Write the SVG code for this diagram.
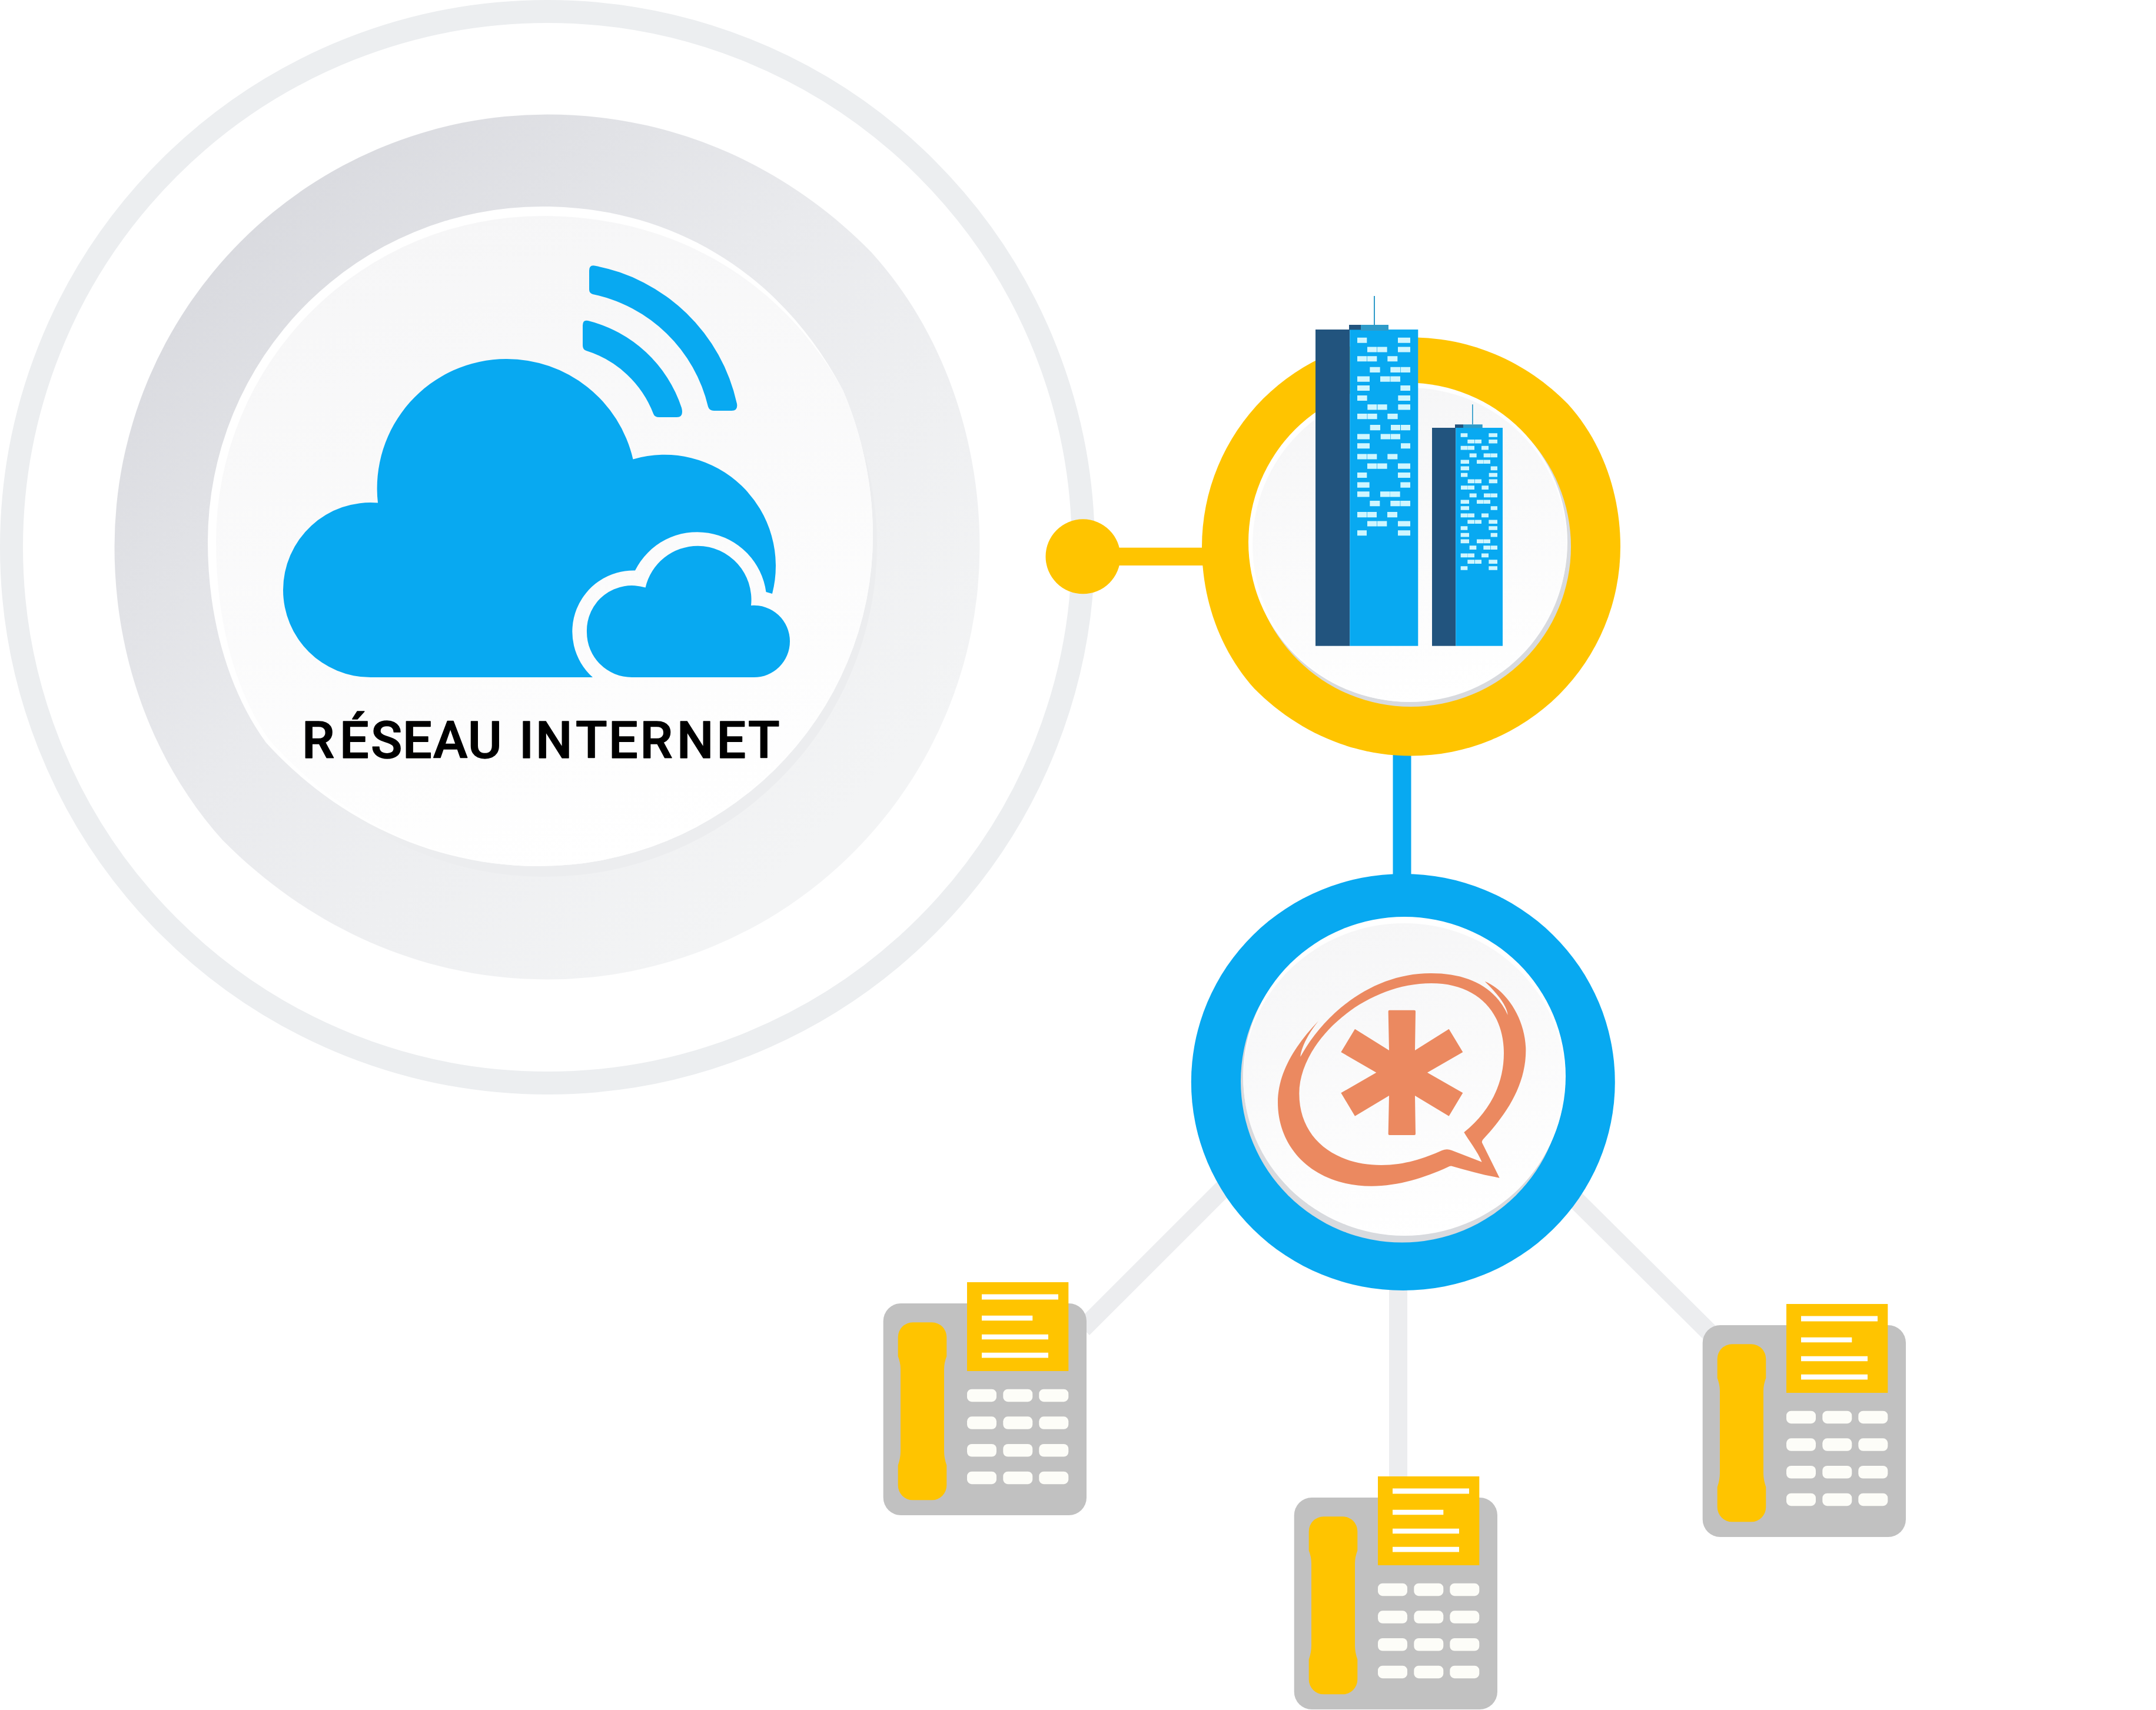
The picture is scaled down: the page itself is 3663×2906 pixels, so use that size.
<svg xmlns="http://www.w3.org/2000/svg" xmlns:xlink="http://www.w3.org/1999/xlink" width="3663" height="2906" viewBox="0 0 3663 2906">
<style>
.blue{fill:#08A9F1}
.yellow{fill:#FFC400}
.dark{fill:#22547E}
.cap{fill:#2E9BC9}
.win{fill:#CFF6FF}
.body{fill:#C1C1C1}
.btn{fill:#FDFDF8}
.orange{fill:#EB8960}
.grey-line{stroke:#ECEDEF;stroke-width:31;fill:none}
.label{font-family:"Roboto","Liberation Sans",sans-serif;font-size:88px;font-weight:500;fill:#000;stroke:#000;stroke-width:1.5;stroke-linejoin:round}
</style>
<defs>
<linearGradient id="midGrad" x1="0.12" y1="0.15" x2="0.8" y2="0.85"><stop offset="0" stop-color="#D9DADF"/><stop offset="0.45" stop-color="#E9EAED"/><stop offset="0.7" stop-color="#EEEFF1"/><stop offset="1" stop-color="#F3F4F5"/></linearGradient>
<linearGradient id="faceGrad" x1="0.35" y1="0" x2="0.6" y2="1"><stop offset="0" stop-color="#F6F6F7"/><stop offset="1" stop-color="#FFFFFF"/></linearGradient>
<path id="blob" d="M0 -1C.3 -1 .56 -.875 .749 -.682C.91 -.505 1 -.258 1 0A1 1 0 0 1 0 1C-.3 1 -.56 .87 -.75 .678C-.91 .5 -1 .258 -1 0A1 1 0 0 1 0 -1Z"/>
<g id="phone">
<rect class="body" x="1500.7" y="2215" width="345.3" height="360" rx="30"/>
<path class="yellow" d="M1550.7 2247.3H1583.3A25 25 0 0 1 1608.3 2272.3V2305Q1604 2316 1604 2326.7V2466.7Q1604 2478 1608.3 2490V2524.3A25 25 0 0 1 1583.3 2549.3H1550.7A25 25 0 0 1 1525.7 2524.3V2490Q1530 2478 1530 2466.7V2326.7Q1530 2316 1525.7 2305V2272.3A25 25 0 0 1 1550.7 2247.3Z"/>
<rect class="yellow" x="1643" y="2179" width="172.3" height="151"/>
<path fill="#fff" d="M1668 2199.5h130v9h-130zM1668 2235.7h86.3v8.6h-86.3zM1668 2267.7h113v8.6h-113zM1668 2298.7h113v8.8h-113z"/>
<g class="btn">
<rect x="1643" y="2360.7" width="50" height="21.5" rx="8"/><rect x="1704.3" y="2360.7" width="50" height="21.5" rx="8"/><rect x="1765.3" y="2360.7" width="50" height="21.5" rx="8"/>
<rect x="1643" y="2407.3" width="50" height="21.5" rx="8"/><rect x="1704.3" y="2407.3" width="50" height="21.5" rx="8"/><rect x="1765.3" y="2407.3" width="50" height="21.5" rx="8"/>
<rect x="1643" y="2454" width="50" height="21.5" rx="8"/><rect x="1704.3" y="2454" width="50" height="21.5" rx="8"/><rect x="1765.3" y="2454" width="50" height="21.5" rx="8"/>
<rect x="1643" y="2500.7" width="50" height="21.5" rx="8"/><rect x="1704.3" y="2500.7" width="50" height="21.5" rx="8"/><rect x="1765.3" y="2500.7" width="50" height="21.5" rx="8"/>
</g>
</g>
</defs>
<rect width="3663" height="2906" fill="#fff"/>
<g id="node-internet">
<circle cx="930" cy="930" r="910.5" fill="none" stroke="#ECEEF0" stroke-width="39"/>
<use xlink:href="#blob" href="#blob" transform="translate(929.5 929.5) scale(735)" fill="url(#midGrad)"/>
<circle cx="925" cy="925" r="565" fill="#ECEDEF"/>
<path fill="#fff" d="M921 351C1150 351 1332 472 1432 663C1465 740 1483 825 1483 910A568 562 0 0 1 915 1472C735 1472 570 1392 452 1262C385 1170 353 1045 353 921A568 570 0 0 1 921 351Z"/>
<path fill="url(#faceGrad)" d="M921 367C1150 367 1330 480 1432 663C1465 740 1483 825 1483 910A568 562 0 0 1 915 1472C740 1472 575 1390 458 1258C395 1170 367 1045 367 920A554 553 0 0 1 921 367Z"/>
<path class="blue" d="M629.5 1151A148.5 148.5 0 0 1 481 1003A148.5 148.5 0 0 1 642 854.6A220 220 0 0 1 860 610A220 220 0 0 1 1075.5 780.5A189 189 0 0 1 1312 1009L1301.5 1006A118 118 0 0 0 1079 969.5A104 104 0 0 0 1007 1151Z"/>
<path class="blue" d="M1073.5 1151A76.5 76.5 0 0 1 997 1074.5A76.5 76.5 0 0 1 1096.6 998.6A91.5 91.5 0 0 1 1185.7 927.7A91.5 91.5 0 0 1 1276 1029A61 61 0 0 1 1342 1090A61 61 0 0 1 1280 1151Z"/>
<path class="blue" d="M1010 451.5A305 305 0 0 1 1252 686Q1254 698 1243 698L1213 698Q1205 698 1203 691A255 255 0 0 0 1007 500Q1001 498 1001 492L1001 460Q1001 450 1010 451.5Z"/>
<path class="blue" d="M999 545A225 225 0 0 1 1158 693Q1162 709 1150 709L1120 709Q1112 709 1110 703A180 180 0 0 0 996 596Q990 594 990 587L990 553Q990 543 999 545Z"/>
<text class="label" x="513 577 630 684 736 795 850 882 910 978 1034 1087.5 1150 1217.6 1271" y="1288">RÉSEAU INTERNET</text>
</g>
<g id="connectors">
<rect class="yellow" x="1840" y="930.7" width="220" height="30.3"/>
<rect class="blue" x="2366.5" y="1270" width="31" height="230"/>
<line class="grey-line" x1="2375.5" y1="2180" x2="2375.5" y2="2520"/>
<line class="grey-line" x1="1840" y1="2258" x2="2130" y2="1968"/>
<line class="grey-line" x1="2640" y1="2002" x2="2920" y2="2280"/>
<circle class="yellow" cx="1840" cy="945.8" r="63.5"/>
</g>
<g id="node-company">
<use xlink:href="#blob" href="#blob" transform="translate(2397.5 929) scale(355.5)" class="yellow"/>
<circle cx="2397" cy="929" r="272" fill="#D8DADE"/>
<circle cx="2392" cy="921.5" r="271" fill="#fff"/>
<circle cx="2395" cy="926" r="267" fill="url(#faceGrad)"/>
<rect class="dark" x="2235" y="560" width="58.3" height="537.7"/>
<rect class="blue" x="2293.3" y="560" width="116" height="537.7"/>
<rect class="dark" x="2292" y="552" width="20" height="8.4"/>
<rect class="cap" x="2312" y="552" width="47" height="10"/>
<rect class="cap" x="2334" y="503" width="2" height="49"/>
<rect class="dark" x="2433" y="727" width="40.3" height="370.7"/>
<rect class="blue" x="2473.3" y="727" width="79.7" height="370.7"/>
<rect class="dark" x="2472" y="721.3" width="14" height="5.7"/>
<rect class="cap" x="2486" y="721.3" width="32.7" height="6"/>
<rect class="cap" x="2501" y="687.3" width="1.7" height="34"/>
<g transform="translate(2180 480) scale(.33333 .41457)">
<path class="win" d="M378 226H427V248H378ZM585 226H648V248H585ZM429 264H478V286H429ZM480 264H530V286H480ZM585 264H648V286H585ZM378 302H427V324H378ZM429 302H478V324H429ZM532 302H583V324H532ZM442 347H494V369H442ZM547 347H597V369H547ZM599 347H648V369H599ZM378 385H441V407H378ZM495 385H545V407H495ZM547 385H597V407H547ZM378 422H441V444H378ZM598 422H648V444H598ZM378 463H428V485H378ZM586 463H648V485H586ZM430 500H478V522H430ZM481 500H530V522H481ZM586 500H648V522H586ZM378 538H428V560H378ZM430 538H479V560H430ZM532 538H584V560H532ZM443 584H495V606H443ZM549 584H597V606H549ZM600 584H648V606H600ZM378 621H441V643H378ZM497 621H546V643H497ZM548 621H597V643H548ZM378 659H441V681H378ZM600 659H648V681H600ZM378 703H427V725H378ZM429 703H478V725H429ZM532 703H583V725H532ZM429 742H478V764H429ZM480 742H530V764H480ZM585 742H648V764H585ZM378 779H427V801H378ZM585 779H648V801H585ZM378 819H440V841H378ZM598 819H648V841H598ZM378 857H440V879H378ZM495 857H545V879H495ZM546 857H596V879H546ZM442 895H493V917H442ZM547 895H596V917H547ZM598 895H648V917H598ZM378 941H427V963H378ZM429 941H477V963H429ZM531 941H582V963H531ZM429 978H478V1000H429ZM480 978H529V1000H480ZM585 978H648V1000H585ZM378 1016H426V1038H378ZM585 1016H648V1038H585Z"/>
<path class="win" d="M905 618H940V634H905ZM1048 618H1092V634H1048ZM940 644H975V660H940ZM977 644H1011V660H977ZM1048 644H1092V660H1048ZM905 670H940V686H905ZM941 670H975V686H941ZM1011 670H1047V686H1011ZM950 701H986V717H950ZM1022 701H1057V717H1022ZM1058 701H1092V717H1058ZM905 727H948V743H905ZM987 727H1021V743H987ZM1022 727H1056V743H1022ZM905 754H948V770H905ZM1058 754H1092V770H1058ZM906 781H940V797H906ZM1049 781H1092V797H1049ZM941 807H975V823H941ZM977 807H1011V823H977ZM1049 807H1092V823H1049ZM906 833H940V849H906ZM941 833H975V849H941ZM1012 833H1047V849H1012ZM950 865H986V881H950ZM1023 865H1057V881H1023ZM1058 865H1092V881H1058ZM905 891H948V907H905ZM987 891H1021V907H987ZM1022 891H1056V907H1022ZM905 917H948V933H905ZM1058 917H1092V933H1058ZM905 947H940V963H905ZM941 947H975V963H941ZM1011 947H1047V963H1011ZM940 973H975V989H940ZM977 973H1011V989H977ZM1048 973H1092V989H1048ZM905 999H940V1015H905ZM1048 999H1092V1015H1048ZM905 1027H948V1043H905ZM1058 1027H1092V1043H1058ZM905 1053H948V1069H905ZM987 1053H1021V1069H987ZM1022 1053H1056V1069H1022ZM950 1079H985V1095H950ZM1021 1079H1056V1095H1021ZM1058 1079H1092V1095H1058ZM905 1111H940V1127H905ZM941 1111H975V1127H941ZM1011 1111H1047V1127H1011ZM940 1137H975V1153H940ZM977 1137H1011V1153H977ZM1048 1137H1092V1153H1048ZM905 1163H940V1179H905ZM1048 1163H1092V1179H1048Z"/>
</g>
</g>
<g id="node-asterisk">
<ellipse cx="2383.8" cy="1839" rx="360" ry="354" class="blue"/>
<circle cx="2382" cy="1837.5" r="274" fill="#D8DADE"/>
<ellipse cx="2386" cy="1829" rx="274" ry="271" fill="#fff"/>
<ellipse cx="2385.5" cy="1834" rx="273" ry="265" fill="url(#faceGrad)"/>
<g transform="translate(2120 1620) scale(.33333)">
<path class="orange" d="M716 296Q716 290 722 290H849Q855 290 855 296L852 495L1025 386L1096 504L915 608L1096 712L1025 830L852 726L855 921Q855 927 849 927H722Q716 927 716 921L720 726L546 830L475 712L655 608L475 504L546 386L720 495Z"/>
<path class="orange" fill-rule="evenodd" d="M1283 1145C1200 1130 1120 1108 1040 1085Q1030 1083 1020 1090C900 1145 770 1187 630 1187C340 1187 153 1000 153 760C153 610 240 470 360 345C300 420 270 490 268 528C400 290 650 100 935 102C1120 102 1260 170 1325 315C1320 260 1260 195 1208 143C1330 195 1417 350 1417 495C1417 680 1310 830 1198 950Q1190 960 1196 970L1283 1145ZM1102 913C1230 810 1305 670 1305 510C1305 300 1170 153 935 153C590 153 262 450 262 715C262 950 450 1080 680 1080C800 1080 900 1045 990 1005Q1015 995 1040 1005L1193 1064C1170 1010 1130 960 1102 913Z"/>
</g>
</g>
<g id="node-phone-left"><use xlink:href="#phone" href="#phone"/></g>
<g id="node-phone-bottom"><use xlink:href="#phone" href="#phone" transform="translate(698 330)"/></g>
<g id="node-phone-right"><use xlink:href="#phone" href="#phone" transform="translate(1392 37)"/></g>
</svg>
